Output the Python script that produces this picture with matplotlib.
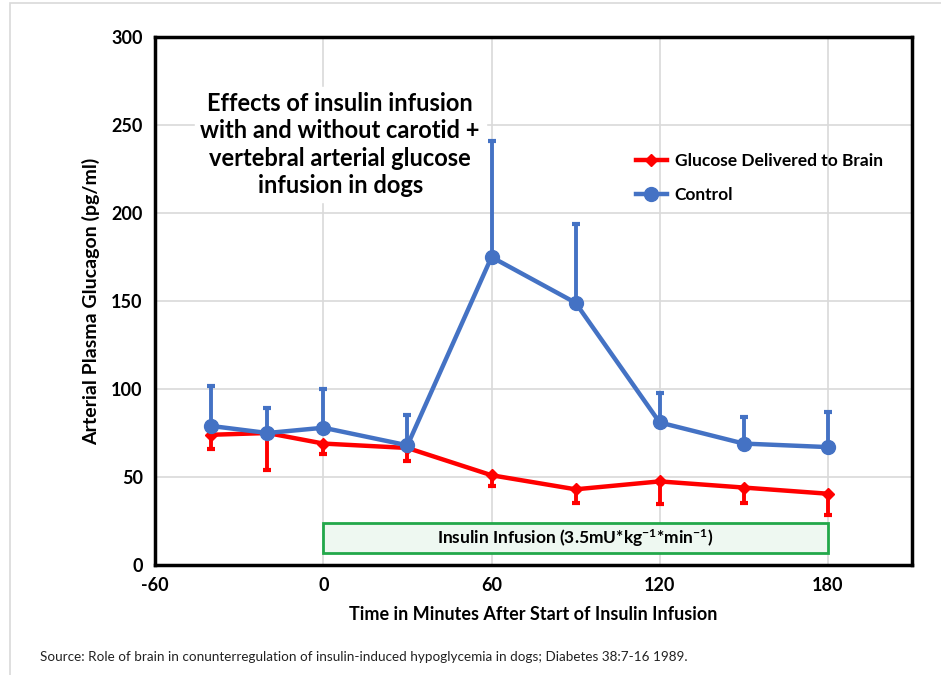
import matplotlib.pyplot as plt
from matplotlib.patches import Rectangle
from matplotlib.lines import Line2D

plt.rcParams['font.family'] = ['Lato', 'DejaVu Sans']
plt.rcParams['axes.unicode_minus'] = False
plt.rcParams['mathtext.fontset'] = 'custom'
plt.rcParams['mathtext.rm'] = 'Lato:bold'
plt.rcParams['mathtext.bf'] = 'Lato:bold'
plt.rcParams['mathtext.default'] = 'bf'

# data (minutes, pg/ml)
minutes = [-40, -20, 0, 30, 60, 90, 120, 150, 180]
control = [79, 75, 78, 68, 175, 149, 81, 69, 67]
control_err = [23, 14, 22, 17, 66, 45, 17, 15, 20]
glucose = [74, 75, 69, 66.5, 51, 43, 47.5, 44, 40.5]
glucose_err = [8, 21, 6, 7.5, 6, 7.5, 13, 9, 12]
zeros = [0] * len(minutes)

xticks = [-60, 0, 60, 120, 180]
yticks = [0, 50, 100, 150, 200, 250, 300]

fig = plt.figure(figsize=(9.41, 6.75), dpi=100)
ax = fig.add_axes([0.165, 0.163, 0.804, 0.782])

# light outer frame like the slide border
fig.patches.append(Rectangle((10 / 941, -0.01), 1.0, 1 - 3 / 675 + 0.01,
                             transform=fig.transFigure, fill=False,
                             edgecolor='#d9d9d9', lw=1.2))

red = '#ff0000'
blue = '#4472c4'

ax.errorbar(minutes, glucose, yerr=[glucose_err, zeros], color=red, lw=3.2,
            marker='D', ms=6, elinewidth=2.8, capsize=3, capthick=3, zorder=4)
ax.errorbar(minutes, control, yerr=[zeros, control_err], color=blue, lw=3.2,
            marker='o', ms=10, elinewidth=2.8, capsize=3, capthick=3, zorder=5)

ax.set_xlim(-60, 210)
ax.set_ylim(0, 300)
ax.set_xticks(xticks)
ax.set_yticks(yticks)
ax.grid(True, color='#d9d9d9', lw=1.2)
ax.set_axisbelow(True)
ax.tick_params(length=0, labelsize=13, pad=9)
for lab in ax.get_xticklabels() + ax.get_yticklabels():
    lab.set_fontweight('bold')
for s in ax.spines.values():
    s.set_linewidth(2.5)

ax.set_xlabel('Time in Minutes After Start of Insulin Infusion', fontsize=13,
              fontweight='bold', labelpad=8)
ax.set_ylabel('Arterial Plasma Glucagon (pg/ml)', fontsize=14,
              fontweight='bold', labelpad=8)

# insulin infusion bar
ax.add_patch(Rectangle((0, 7), 180, 17, facecolor='#eef8f1',
                       edgecolor='#22a84a', lw=2, zorder=3))
ax.text(90, 15.5, r'Insulin Infusion (3.5mU*kg$^{-1}$*min$^{-1}$)',
        ha='center', va='center', fontsize=12.5, fontweight='bold', zorder=6)

ax.text(6, 239, 'Effects of insulin infusion\nwith and without carotid +\n'
        'vertebral arterial glucose\ninfusion in dogs',
        ha='center', va='center', fontsize=17, fontweight='bold',
        linespacing=1.22, backgroundcolor='white', zorder=6)

handles = [Line2D([], [], color=red, lw=3.2, marker='D', ms=6),
           Line2D([], [], color=blue, lw=3.2, marker='o', ms=10)]
labels = ['Glucose Delivered to Brain', 'Control']
ax.legend(handles, labels, loc='upper left', bbox_to_anchor=(0.635, 0.78),
          frameon=False, prop={'weight': 'bold', 'size': 12.5},
          handlelength=1.8, handletextpad=0.45, labelspacing=1.0,
          borderaxespad=0, borderpad=0)

fig.text(40 / 941, 1 - 657 / 675,
         'Source: Role of brain in conunterregulation of insulin-induced '
         'hypoglycemia in dogs; Diabetes 38:7-16 1989.',
         fontsize=9.7, va='center', color='#222222')

fig.savefig('out.png', dpi=100)
